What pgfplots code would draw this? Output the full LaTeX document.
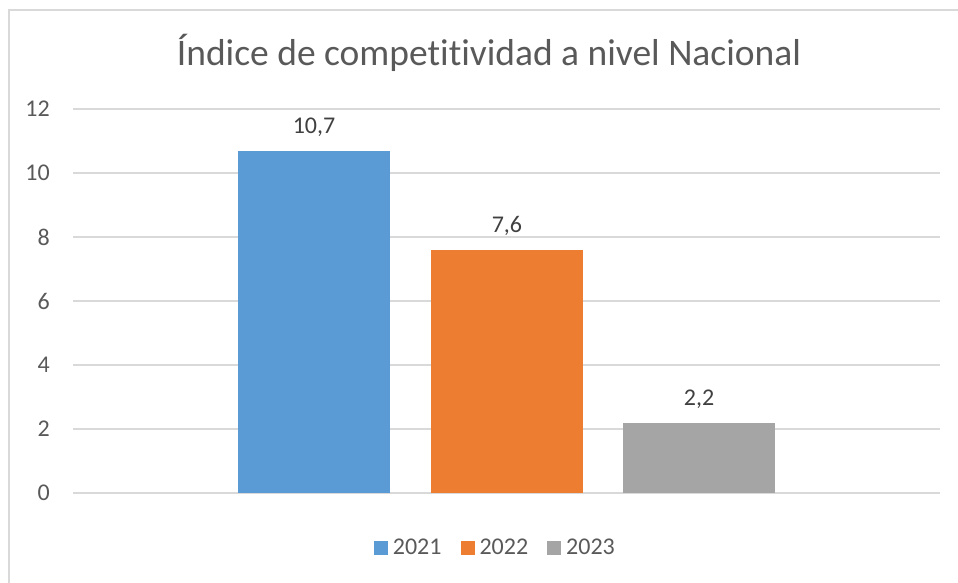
\documentclass[border=0pt]{standalone}
\usepackage{fontspec}
\setmainfont{Carlito}[Ligatures={NoCommon}]
\usepackage{pgfplots}
\pgfplotsset{compat=1.18}
\definecolor{cA}{HTML}{5B9BD5}
\definecolor{cB}{HTML}{ED7D31}
\definecolor{cC}{HTML}{A5A5A5}
\definecolor{gridc}{HTML}{D9D9D9}
\definecolor{txt}{HTML}{595959}
\definecolor{lbl}{HTML}{404040}
\begin{document}
\begin{tikzpicture}[x=1pt,y=1pt]
\path[use as bounding box] (0,0) rectangle (958,583);
\draw[gridc, line width=1.5pt] (9,0) -- (9,573) -- (958,573);
\node[text=txt, font=\fontsize{37.5}{44}\selectfont, inner sep=0pt] at (489,530) {Índice de competitividad a nivel Nacional};
\begin{axis}[
  at={(73pt,90pt)}, anchor=south west,
  scale only axis, width=867pt, height=384pt,
  xmin=-2.26, xmax=2.255, ymin=0, ymax=12,
  ytick={0,2,...,12}, xtick=\empty,
  axis line style={draw=none},
  major tick length=0pt,
  ymajorgrids, grid style={gridc, line width=1.5pt},
  /pgf/number format/assume math mode=true,
  yticklabel style={text=txt, font=\fontsize{24}{28}\selectfont, inner sep=0pt, xshift=-23pt},
  bar width=0.79, bar shift=0,
  nodes near coords,
  nodes near coords style={text=lbl, font=\fontsize{24}{28}\selectfont, inner sep=0pt, anchor=south, yshift=14pt,
    /pgf/number format/.cd, fixed, fixed zerofill, precision=1, use comma, assume math mode=true},
  legend columns=3,
  legend style={at={(0.486,-0.143)}, anchor=center, draw=none, fill=none,
    font=\fontsize{24}{28}\selectfont, text=txt,
    nodes={inner sep=0pt},
    /tikz/every even column/.append style={column sep=19pt}},
  legend image code/.code={\fill[#1, draw=none] (0pt,-7pt) rectangle (14pt,7pt); \path (19pt,0pt);},
]
\addplot[ybar, fill=cA, draw=none, bar shift=0] coordinates {(-1.005,10.7)};
\addlegendentry{2021}
\addplot[ybar, fill=cB, draw=none, bar shift=0] coordinates {(0,7.6)};
\addlegendentry{2022}
\addplot[ybar, fill=cC, draw=none, bar shift=0] coordinates {(1,2.2)};
\addlegendentry{2023}
\end{axis}
\end{tikzpicture}
\end{document}
